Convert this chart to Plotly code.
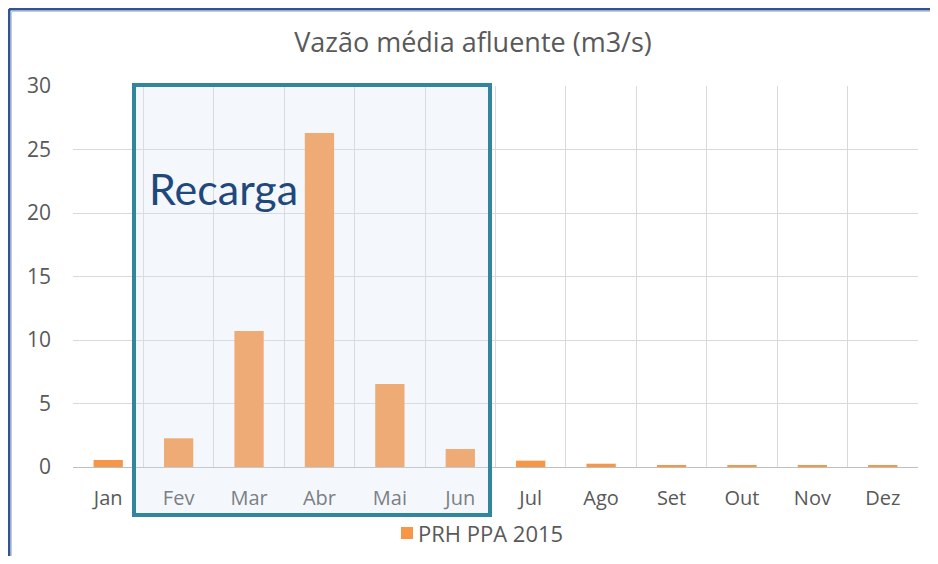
import plotly.graph_objects as go

months = ["Jan", "Fev", "Mar", "Abr", "Mai", "Jun", "Jul", "Ago", "Set", "Out", "Nov", "Dez"]
vazao = [0.55, 2.26, 10.7, 26.3, 6.54, 1.42, 0.5, 0.26, 0.1, 0.1, 0.1, 0.1]
series_name = "PRH PPA 2015"
title_text = "Vazão média afluente (m3/s)"
box_label = "Recarga"

# page offset of the plot div (default body margin)
OFF = 8
W, H = 930, 548
L, R, T, B = 65, 20, 78, 89
pw, ph = W - L - R, H - T - B

def px(x):
    """page x pixel -> paper coordinate"""
    return (x - OFF - L) / pw

def py(y):
    """page y pixel -> paper coordinate"""
    return (H - B - (y - OFF)) / ph

FONT = "Open Sans"
GRAY = "#595959"
ORANGE = "#F79646"

fig = go.Figure()
fig.add_trace(go.Bar(x=months, y=vazao, name=series_name,
                     marker=dict(color=ORANGE, line=dict(width=0)),
                     showlegend=False))

shapes = [
    # recarga box
    dict(type="rect", xref="paper", yref="paper",
         x0=px(134), x1=px(490), y0=py(515), y1=py(85),
         line=dict(color="#31859C", width=4),
         fillcolor="rgba(214,230,244,0.27)", layer="above"),
    # outer frame (left and top)
    dict(type="line", xref="paper", yref="paper",
         x0=px(9), x1=px(9), y0=py(H + 30), y1=py(9),
         line=dict(color="#2F5597", width=3)),
    dict(type="line", xref="paper", yref="paper",
         x0=px(9), x1=px(W + 30), y0=py(9), y1=py(9),
         line=dict(color="#2F5597", width=3)),
    dict(type="line", xref="paper", yref="paper",
         x0=px(11.5), x1=px(11.5), y0=py(H + 30), y1=py(11.5),
         line=dict(color="#C8CCD4", width=1)),
    dict(type="line", xref="paper", yref="paper",
         x0=px(11.5), x1=px(W + 30), y0=py(11.5), y1=py(11.5),
         line=dict(color="#C8CCD4", width=1)),
    # legend swatch
    dict(type="rect", xref="paper", yref="paper",
         x0=px(401), x1=px(413), y0=py(539), y1=py(527),
         line=dict(width=0), fillcolor=ORANGE),
]

fig.update_layout(
    width=W, height=H,
    margin=dict(l=L, r=R, t=T, b=B, pad=0),
    paper_bgcolor="white", plot_bgcolor="white",
    bargap=0.584,
    showlegend=False,
    font=dict(family=FONT, color=GRAY, size=21),
    title=dict(text=title_text, x=0.5, xanchor="center", xref="container",
               y=1 - (43 - OFF) / H, yanchor="middle", yref="container",
               font=dict(family=FONT, size=27, color=GRAY)),
    xaxis=dict(type="category", tickson="boundaries", showgrid=True,
               gridcolor="#D9D9D9", gridwidth=1, showline=True,
               linecolor="#BFBFBF", linewidth=1, ticks="", zeroline=False,
               tickfont=dict(family=FONT, size=20, color=GRAY),
               ticklabelstandoff=13, fixedrange=True),
    yaxis=dict(range=[0, 30], dtick=5, showgrid=True, gridcolor="#D9D9D9",
               gridwidth=1, zeroline=False, showline=False, ticks="",
               tickfont=dict(family=FONT, size=21, color=GRAY),
               ticklabelstandoff=21),
    shapes=shapes,
    annotations=[
        dict(text=box_label, xref="paper", yref="paper",
             x=px(147), xanchor="left", y=py(188), yanchor="middle",
             showarrow=False,
             font=dict(family="Lato", size=43, color="#1F497D")),
        dict(text=series_name, xref="paper", yref="paper",
             x=px(416), xanchor="left", y=py(533), yanchor="middle",
             showarrow=False,
             font=dict(family=FONT, size=22, color=GRAY)),
    ],
)

fig.write_html("out.html")
